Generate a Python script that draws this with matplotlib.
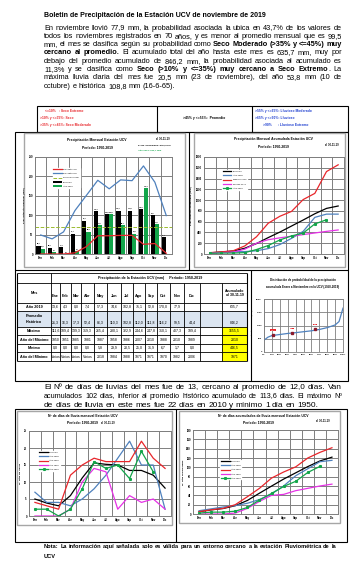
import numpy as np
import matplotlib
matplotlib.use("Agg")
import matplotlib.pyplot as plt
from matplotlib.patches import Rectangle
from matplotlib.font_manager import FontProperties

# ---------------- datos ----------------
meses = ['Ene', 'Feb', 'Mar', 'Abr', 'May', 'Jun', 'Jul', 'Ago', 'Sep', 'Oct', 'Nov', 'Dic']

# precipitacion mensual (mm)
prec_2019 = [13.6, 4.3, 0.0, 7.4, 57.3, 74.6, 102.8, 75.1, 52.8, 170.0, 77.9]
prec_prom = [21.3, 16.3, 17.3, 52.4, 86.3, 110.3, 102.8, 112.0, 111.8, 116.2, 99.5, 44.4]
prec_max = [111.6, 189.4, 139.3, 319.3, 265.4, 280.1, 322.9, 244.6, 247.8, 310.1, 407.3, 189.4]
anio_max = ['1950', '1951', '1985', '1981', '1987', '1958', '1986', '2007', '2010', '1988', '2010', '1989']
prec_min = [0.0, 0.0, 0.0, 0.0, 5.8, 29.9, 20.5, 25.0, 31.9, 6.7, 1.7, 0.0]
anio_min = ['Varios', 'Varios', 'Varios', 'Varios', '2018', '1984', '1988', '1971', '1971', '1970', '1982', '2006']
acum_tabla = ['635,7', '846,2', '1655,5', '2010', '446,5', '1971']
perc_bajo = [0, 0, 0, 3, 19, 47, 47, 48, 48, 25, 27, 2]
perc_alto = [49, 39, 57, 112, 151, 190, 168, 191, 189, 227, 185, 99]
prom_mensual_anual = 70.5

# precipitacion acumulada (mm)
pac_prom = [21.3, 37.6, 54.9, 107.3, 193.6, 303.9, 406.7, 518.7, 630.5, 746.7, 846.2, 890.6]
pac_2018 = [20, 30, 40, 45, 60, 100, 175, 290, 420, 680, 740, 740]
pac_max = [25, 40, 60, 150, 320, 570, 700, 790, 1010, 1125, 1530, 1655]
pac_min = [15, 25, 35, 90, 200, 265, 300, 330, 360, 390, 420, 446]
pac_2019 = [13.6, 17.9, 17.9, 25.3, 82.6, 157.2, 260.0, 335.1, 387.9, 557.9, 635.7]

# distribucion de probabilidad del acumulado ene-nov
dist_prob = [0.0, 0.05, 0.10, 0.20, 0.30, 0.40, 0.50, 0.60, 0.70, 0.80, 0.90, 0.95, 1.0]
dist_val = [446, 560, 620, 660, 700, 730, 765, 800, 850, 920, 1020, 1150, 1655]
marca_prob = [0.113, 0.35, 0.65]
marca_val = [636, 705, 856]
marca_txt = ['635,7', '705', '856']

# dias de lluvia mensual
dias_prom = [5.0, 3.8, 3.0, 6.0, 11.2, 15.6, 15.2, 15.0, 13.4, 13.4, 12.0, 8.2]
dias_2018 = [7, 4, 4, 3, 5, 8, 12, 17, 22, 15, 15, 2]
dias_max = [4, 3, 2, 12, 15, 17, 16, 16, 16, 22, 17, 14]
dias_min = [0, 0, 0, 2, 10, 14, 13, 2, 6, 4, 5, 2]
dias_2019 = [2, 2, 0, 2, 8, 16, 14, 15, 11, 19, 13]

# dias de lluvia acumulados
dac_prom = [5.0, 8.8, 11.8, 17.8, 29.0, 44.6, 59.8, 74.8, 88.2, 101.6, 113.6, 121.8]
dac_2018 = [7, 11, 15, 18, 23, 31, 43, 60, 82, 97, 112, 115]
dac_max = [5, 9, 12, 20, 37, 55, 77, 90, 101, 120, 132, 142]
dac_min = [0, 0, 0, 2, 12, 27, 40, 42, 50, 55, 60, 64]
dac_2019 = [2, 4, 4, 6, 14, 30, 44, 59, 70, 89, 102]

# ---------------- figura ----------------
W, H = 358, 569
fig = plt.figure(figsize=(W / 100, H / 100), dpi=100)
page = fig.add_axes([0, 0, 1, 1])
page.set_xlim(0, W)
page.set_ylim(H, 0)
page.axis('off')

SANS = ['Liberation Sans', 'DejaVu Sans']
NARROW = ['Liberation Sans Narrow', 'Liberation Sans', 'DejaVu Sans']
GRIS = '#7f7f7f'
VERDE = '#12a54a'
AZUL = '#4f81bd'
ROJO = '#e8262b'
MAGENTA = '#e632e6'


def px_axes(x0, y0, x1, y1):
    return fig.add_axes([x0 / W, 1 - y1 / H, (x1 - x0) / W, (y1 - y0) / H])


def caja(x0, y0, x1, y1, color='black', lw=0.8, fc=None):
    page.add_patch(Rectangle((x0, y0), x1 - x0, y1 - y0, fill=fc is not None,
                             facecolor=fc, edgecolor=color, lw=lw))


def linea(x0, y0, x1, y1, color='black', lw=0.8):
    page.plot([x0, x1], [y0, y1], color=color, lw=lw, solid_capstyle='butt')


def coma(v):
    return f"{v:.1f}".replace('.', ',')


def txt(x, y, s, size=2.4, color='black', ha='center', weight='bold', fam=NARROW, **kw):
    page.text(x, y, s, fontsize=size, color=color, ha=ha, va='center',
              fontweight=weight, family=fam, **kw)


renderer = fig.canvas.get_renderer()


def trocear(lin, bold_all):
    estado = False
    tokens = []
    for tok in lin.split(' '):
        piezas = []
        for k, p in enumerate(tok.split('**')):
            if k > 0:
                estado = not estado
            if p:
                piezas.append((p, estado or bold_all))
        tokens.append(piezas)
    return tokens


def fuentes(size):
    return (FontProperties(family=SANS, size=size),
            FontProperties(family=SANS, size=size, weight='bold'))


def ancho(s, fp):
    return renderer.get_text_width_height_descent(s, fp, ismath=False)[0]


def natural(tokens, size):
    fn, fb = fuentes(size)
    esp = ancho('a a', fn) - ancho('aa', fn)
    return sum(ancho(p, fb if b else fn) for t in tokens for p, b in t) + esp * (len(tokens) - 1)


def justificar(lineas, x0, x1, y0, dy, bold_all=False):
    # la primera línea llena el ancho con espacios normales
    base = 10 * (x1 - x0) / natural(trocear(lineas[0], bold_all), 10)
    for i, lin in enumerate(lineas):
        y = y0 + i * dy
        tokens = trocear(lin, bold_all)
        size = base
        nat = natural(tokens, size)
        if nat > (x1 - x0):
            size = base * (x1 - x0) / nat
        fn, fb = fuentes(size)
        esp = ancho('a a', fn) - ancho('aa', fn)
        anchos = [[ancho(p, fb if b else fn) for p, b in t] for t in tokens]
        total = sum(sum(a) for a in anchos)
        if i == len(lineas) - 1 or len(tokens) == 1:
            gap = esp
        else:
            gap = (x1 - x0 - total) / (len(tokens) - 1)
        x = x0
        for t, a in zip(tokens, anchos):
            for (p, b), w in zip(t, a):
                page.text(x, y, p, fontproperties=fb if b else fn, ha='left', va='baseline')
                x += w
            x += gap


def estilo(ax, ymax, ypaso, fs=2.0):
    ax.set_xlim(-0.5, 11.5)
    ax.set_ylim(0, ymax)
    ax.set_xticks(range(12))
    ax.set_xticklabels(meses)
    ax.set_xticks(np.arange(-0.5, 12, 1), minor=True)
    ax.set_yticks(np.arange(0, ymax + 1, ypaso))
    ax.grid(which='minor', axis='x', color=GRIS, lw=0.7)
    ax.grid(which='major', axis='y', color=GRIS, lw=0.7)
    ax.set_axisbelow(True)
    ax.tick_params(which='both', length=0, pad=1.5, labelsize=fs)
    for lab in ax.get_xticklabels() + ax.get_yticklabels():
        lab.set_fontweight('bold')
        lab.set_family(NARROW)
    for s in ax.spines.values():
        s.set_color(GRIS)
        s.set_linewidth(0.7)


def leyenda(ax, x, y):
    lg = ax.legend(loc='upper left', bbox_to_anchor=(x, y), fontsize=1.6, frameon=True,
                   handlelength=4, labelspacing=1.2, borderpad=0.3, handletextpad=0.5)
    lg.get_frame().set_facecolor('white')
    lg.get_frame().set_edgecolor('white')
    lg.get_frame().set_alpha(1)
    for t in lg.get_texts():
        t.set_family(NARROW)


# ---------------- texto superior ----------------
page.text(44, 17, 'Boletin de Precipitación de la Estación UCV de noviembre de 2019',
          fontsize=5.0, fontweight='bold', family=SANS, ha='left', va='baseline')

parrafo1 = [
    'En noviembre llovió 77,9 mm, la probabilidad asociada la ubica en 43,7% de los valores de',
    'todos los noviembres registrados en 70 años, y es menor al promedio mensual que es 99,5',
    'mm, el mes se clasifica según su probabilidad como **Seco Moderado (>35% y <=45%) muy**',
    '**cercano al promedio.** El acumulado total del año hasta este mes es 635,7 mm, muy por',
    'debajo del promedio acumulado de 846,2 mm, la probabilidad asociada al acumulado es',
    '11,3% y se clasifica como **Seco (>10% y <=35%) muy cercano a Seco Extremo**. La',
    'máxima lluvia diaria del mes fue 20,5 mm (23 de noviembre), del año 53,8 mm (10 de',
    'octubre) e histórica 108,8 mm (16-6-65).',
]
justificar(parrafo1, 44, 342, 29.5, 8.3)

# tabla de clasificacion
caja(37, 106, 348, 132)
linea(157, 106, 157, 132)
linea(252, 106, 252, 132)
for k, s in enumerate(['     <=10%   : Seco Extremo', '>10% y <=35%: Seco', '>35% y <=45%: Seco Moderado']):
    txt(40, 111 + k * 7, s, size=2.4, color=ROJO, ha='left', fam=SANS)
txt(204, 118, '>45% y <=55%:  Promedio', size=2.4, fam=SANS)
for k, s in enumerate(['>55% y <=65%: Lluvioso Moderado', '>65% y <=90%: Lluvioso', '        >90%      : Lluvioso Extremo']):
    txt(255, 111 + k * 7, s, size=2.4, color='#1f3fd0', ha='left', fam=SANS)

# ---------------- marcos ----------------
caja(15, 132, 348, 381)
linea(189, 132, 189, 270)
linea(15, 270, 348, 270)
linea(251, 270, 251, 381)
caja(24, 133, 185, 267, color='#a6a6a6', lw=1.0)
caja(194, 133, 345, 267, color='#a6a6a6', lw=1.0)

# ---------------- precipitacion mensual ----------------
ax1 = px_axes(35, 157, 172, 254)
x = np.arange(12)
ax1.bar(x - 0.19, prec_prom, width=0.36, color='black', label='Promedio')
ax1.bar(np.arange(len(prec_2019)) + 0.19, prec_2019, width=0.36, color=VERDE, label='Año 2019')
ax1.plot(x, perc_bajo, color=ROJO, lw=0.9, label='Percentil 10%')
ax1.plot(x, perc_alto, color=AZUL, lw=0.9, label='Percentil 90%')
ax1.axhline(prom_mensual_anual, color='#9bbb30', ls='--', lw=0.7, label='Promedio anual')
for xi, v in zip(x, prec_prom):
    ax1.text(xi - 0.19, v + 4, coma(v), fontsize=1.4, ha='center', fontweight='bold', family=NARROW)
for xi, v in zip(range(len(prec_2019)), prec_2019):
    ax1.text(xi + 0.19, v + 4, coma(v), fontsize=1.4, ha='center', fontweight='bold', family=NARROW)
estilo(ax1, 250, 50)
ax1.set_ylabel('Precipitación mensual (mm)', fontsize=1.6, fontweight='bold', labelpad=2)
leyenda(ax1, 0.12, 0.9)
txt(97, 140, 'Precipitación Mensual Estación UCV')
txt(97, 148, 'Período: 1950-2019')
txt(163, 139, 'al 30-11-19', size=1.9)
txt(138, 145, 'Prom. acumulado: 846,2 mm', size=1.7, ha='left')
txt(138, 150, 'Año 2019: 635,7 mm', size=1.7, ha='left', color=VERDE)

# ---------------- precipitacion acumulada ----------------
ax2 = px_axes(204, 157, 344, 254)
ax2.plot(x, pac_prom, color='black', lw=0.9, label='Promedio')
ax2.plot(x, pac_2018, color=AZUL, lw=0.9, label='Año 2018')
ax2.plot(x, pac_max, color=ROJO, lw=0.9, label='Máximo 2010')
ax2.plot(x, pac_min, color=MAGENTA, lw=0.9, label='Mínimo 1971')
ax2.plot(range(len(pac_2019)), pac_2019, color=VERDE, lw=0.9, marker='s', ms=1.2, label='Año 2019')
estilo(ax2, 1800, 200)
ax2.set_ylabel('Precipitación acumulada (mm)', fontsize=1.6, fontweight='bold', labelpad=2)
leyenda(ax2, 0.12, 0.88)
txt(273, 139, 'Precipitación Mensual Acumulada Estación UCV')
txt(273, 147, 'Período: 1950-2019')
txt(332, 145, 'al 30-11-19', size=1.9)

# ---------------- tabla ----------------
tx = [17, 51, 60, 71, 81, 94, 107, 121, 133, 145, 157, 170, 184, 200, 222, 247]
ty = [273, 283, 303, 311, 327, 335, 344, 352, 361]
page.add_patch(Rectangle((17, 311), 230, 16, facecolor='#dbe5f1', edgecolor='none'))
page.add_patch(Rectangle((222, 327), 25, 34, facecolor='#ffff00', edgecolor='none'))
for yy in ty:
    linea(17, yy, 247, yy, lw=0.6)
linea(17, 273, 17, 361, lw=0.8)
linea(247, 273, 247, 361, lw=0.8)
linea(51, 273, 51, 361, lw=0.6)
for xx in tx[2:-1]:
    linea(xx, 283, xx, 361, lw=0.6)
txt(150, 278, 'Precipitación de la Estación UCV (mm)     Período: 1950-2019', size=2.6)
txt(34, 293, 'Mes', size=2.7)
cen = [(tx[i] + tx[i + 1]) / 2 for i in range(1, 13)]
acx = (tx[-2] + tx[-1]) / 2
for c, m in zip(cen, meses):
    txt(c, 296, m, size=2.7)
txt(acx, 293, 'Acumulado\nal 30-11-19', size=2.5, linespacing=1.3)
filas = [
    ('Año 2019', [coma(v) for v in prec_2019] + [''], 307),
    ('Promedio\nHistórico', [coma(v) for v in prec_prom], 323),
    ('Máximo', [coma(v) for v in prec_max], 331),
    ('Año del Máximo', anio_max, 339.5),
    ('Mínimo', [coma(v) for v in prec_min], 348),
    ('Año del Mínimo', anio_min, 356.5),
]
for (lab, vals, yy), ac in zip(filas, acum_tabla):
    if '\n' in lab:
        txt(34, 319, lab, size=2.7, linespacing=1.6)
    else:
        txt(34, yy, lab, size=2.7)
    for c, v in zip(cen, vals):
        txt(c, yy, v, size=2.5, weight='normal')
    txt(acx, yy, ac, size=2.5, weight='normal')

# ---------------- distribucion de probabilidad ----------------
ax3 = px_axes(264, 299, 343, 352)
ax3.plot(dist_prob, dist_val, color=AZUL, lw=0.9)
ax3.plot(marca_prob, marca_val, 's', color='#8b1a2b', ms=1.8)
for p, v, s in zip(marca_prob, marca_val, marca_txt):
    ax3.text(p, v + 180, s, fontsize=1.3, color='white', ha='center', va='center', family=NARROW,
             bbox=dict(boxstyle='square,pad=0.25', fc=ROJO, ec='none'))
ax3.set_xlim(0, 1)
ax3.set_ylim(0, 2000)
ax3.set_xticks(np.arange(0, 1.01, 0.1))
ax3.set_xticklabels([f'{int(round(p * 100))}%' for p in np.arange(0, 1.01, 0.1)])
ax3.set_yticks(np.arange(0, 2001, 500))
ax3.grid(color=GRIS, lw=0.6)
ax3.set_axisbelow(True)
ax3.tick_params(length=0, pad=1.5, labelsize=1.7)
for lab in ax3.get_xticklabels() + ax3.get_yticklabels():
    lab.set_fontweight('bold')
    lab.set_family(NARROW)
for s in ax3.spines.values():
    s.set_color(GRIS)
    s.set_linewidth(0.6)
ax3.set_ylabel('Precipitación acumulada (mm)', fontsize=1.4, fontweight='bold', labelpad=1.5)
txt(303, 280, 'Distribución de probabilidad de la precipitación', size=2.1)
txt(303, 287, 'acumulada Enero a Noviembre en la UCV (1950-2019)', size=2.1)

# ---------------- texto central ----------------
parrafo2 = [
    'El Nº de días de lluvias del mes fue de 13, cercano al promedio de 12,0 días. Van',
    'acumulados 102 días, inferior al promedio histórico acumulado de 113,6 días. El máximo Nº',
    'de días de lluvia en este mes fue 22 días en 2010 y mínimo 1 día en 1950.',
]
justificar(parrafo2, 44, 342, 388.5, 9)

# ---------------- dias de lluvia ----------------
caja(15, 409, 347, 542)
linea(176, 409, 176, 542)
caja(17, 411, 172, 525, color='#a6a6a6', lw=1.0)
caja(179, 411, 340, 523, color='#a6a6a6', lw=1.0)

ax4 = px_axes(29, 431, 171, 516)
ax4.plot(x, dias_prom, color='black', lw=0.9, label='Promedio')
ax4.plot(x, dias_2018, color=AZUL, lw=0.9, label='Año 2018')
ax4.plot(x, dias_max, color=ROJO, lw=0.9, label='Año 2010')
ax4.plot(x, dias_min, color=MAGENTA, lw=0.9, label='Año 1950')
ax4.plot(range(len(dias_2019)), dias_2019, color=VERDE, lw=0.9, marker='s', ms=1.2, label='Año 2019')
estilo(ax4, 25, 5)
ax4.set_ylabel('Nº días de lluvia', fontsize=1.6, fontweight='bold', labelpad=2)
leyenda(ax4, 0.06, 0.78)
txt(83, 416, 'Nº de días de lluvia mensual Estación UCV')
txt(82, 423, 'Período: 1950-2019')
txt(108, 423, 'al 30-11-19', size=1.9)

ax5 = px_axes(193, 430, 338, 514)
ax5.plot(x, dac_prom, color='black', lw=0.9, label='Promedio')
ax5.plot(x, dac_2018, color=AZUL, lw=0.9, label='Año 2018')
ax5.plot(x, dac_max, color=ROJO, lw=0.9, label='Año 2010')
ax5.plot(x, dac_min, color=MAGENTA, lw=0.9, label='Año 1950')
ax5.plot(range(len(dac_2019)), dac_2019, color=VERDE, lw=0.9, marker='s', ms=1.2, label='Año 2019')
estilo(ax5, 180, 20)
ax5.set_ylabel('Nº días acumulados', fontsize=1.6, fontweight='bold', labelpad=2)
leyenda(ax5, 0.18, 0.66)
txt(263, 416, 'Nº de días acumulados de lluvia mensual Estación UCV')
txt(258, 423, 'Período: 1950-2019')
txt(323, 421, 'al 30-11-19', size=1.9)

# ---------------- nota ----------------
nota = [
    'Nota: La información aquí señalada solo es válida para un entorno cercano a la estación Pluviométrica de la',
    'UCV',
]
justificar(nota, 44, 336, 548, 10, bold_all=True)

fig.savefig('out.png', dpi=100)
